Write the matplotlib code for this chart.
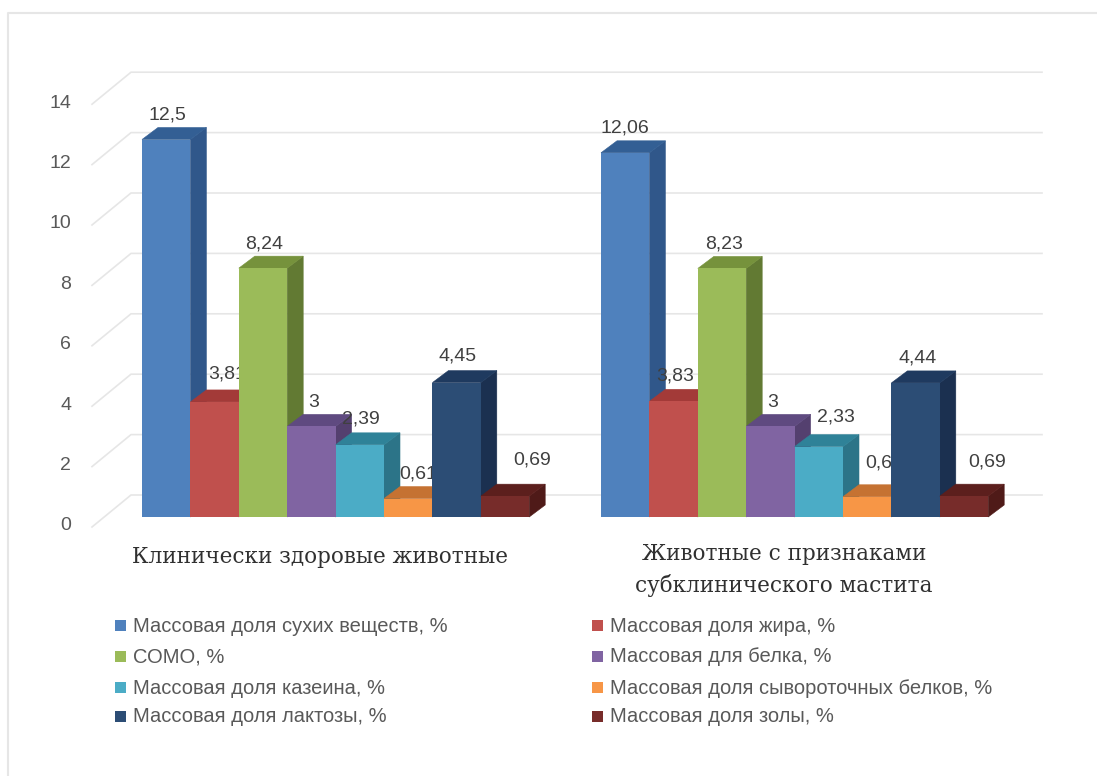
import matplotlib
matplotlib.use('Agg')
from matplotlib import pyplot as plt
from matplotlib.lines import Line2D
from matplotlib.patches import Rectangle

plt.rcParams['font.family'] = ['Liberation Sans', 'DejaVu Sans']

series_names = [
    'Массовая доля сухих веществ, %',
    'Массовая доля жира, %',
    'СОМО, %',
    'Массовая для белка, %',
    'Массовая доля казеина, %',
    'Массовая доля сывороточных белков, %',
    'Массовая доля лактозы, %',
    'Массовая доля золы, %',
]
healthy = [12.5, 3.81, 8.24, 3, 2.39, 0.61, 4.45, 0.69]
mastitis = [12.06, 3.83, 8.23, 3, 2.33, 0.67, 4.44, 0.69]
y_ticks = [0, 2, 4, 6, 8, 10, 12, 14]

front_colors = ['#4f81bd', '#c0504d', '#9bbb59', '#8064a2', '#4bacc6', '#f79646', '#2c4d75', '#772c2a']
top_colors = ['#335f94', '#a33a38', '#76923c', '#5f4a80', '#2f8298', '#c57232', '#1f3a5f', '#5c1f1d']
side_colors = ['#30578a', '#8f3230', '#627a33', '#54406f', '#2c7488', '#b0652a', '#1b3050', '#4f1a18']

# label nudges in pixels, the dense bars push some labels sideways
healthy_dx = [1, 13, 1, 2, 1, 10, 1, 27]
healthy_dy = [25, 28, 24, 24, 26, 25, 27, 36]
mastitis_dx = [0, 2, 2, 2, 17, 17, 2, 23]
mastitis_dy = [25, 25, 24, 24, 30, 34, 25, 34]

W, H = 1097, 776
BAR_PX = 48.4
UNIT_PX = 30.2
X0_PX = 142
Y0_PX = 517
DEPTH_X = 16 / BAR_PX
DEPTH_Y = 12 / UNIT_PX
WALL_X = 39 / BAR_PX
WALL_Y = 32 / UNIT_PX
FLOOR_OFFSET = 10 / UNIT_PX
GROUP_STEP = 459 / BAR_PX
TEXT_COLOR = '#595959'

fig = plt.figure(figsize=(W / 100, H / 100), dpi=100)
ax = fig.add_axes([0, 0, 1, 1])
ax.set_xlim(-X0_PX / BAR_PX, (W - X0_PX) / BAR_PX)
ax.set_ylim((Y0_PX - H) / UNIT_PX, Y0_PX / UNIT_PX)
ax.axis('off')


def px_x(x):
    return (x - X0_PX) / BAR_PX


def px_y(y):
    return (Y0_PX - y) / UNIT_PX


# page border, only the top and left edges are visible
fig.add_artist(Line2D([8 / W, 8 / W, 1], [0, 1 - 13 / H, 1 - 13 / H], color='#e6e6e6', linewidth=1.5))

# back wall grid with the slanted side wall lines
grid_left = px_x(131)
grid_right = px_x(1042)
side_left = grid_left - WALL_X
for v in y_ticks:
    back_y = v - FLOOR_OFFSET + WALL_Y
    ax.plot([side_left, grid_left, grid_right], [v - FLOOR_OFFSET, back_y, back_y],
            color='#e6e6e6', linewidth=1.2, zorder=1)
    ax.text(side_left - 21 / BAR_PX, v - FLOOR_OFFSET + 1 / UNIT_PX, str(v), ha='right', va='center',
            fontsize=14, color=TEXT_COLOR)


def draw_group(start, values, label_dx, label_dy):
    for i, v in enumerate(values):
        left = start + i
        right = left + 1
        z = 3 + i
        ax.fill([right, right + DEPTH_X, right + DEPTH_X, right],
                [0, DEPTH_Y, v + DEPTH_Y, v], color=side_colors[i], linewidth=0.4, zorder=z)
        ax.fill([left, left + DEPTH_X, right + DEPTH_X, right],
                [v, v + DEPTH_Y, v + DEPTH_Y, v], color=top_colors[i], linewidth=0.4, zorder=z)
        ax.bar(left, v, width=1, align='edge', color=front_colors[i], linewidth=0, zorder=z)
        ax.text(left + 0.5 + label_dx[i] / BAR_PX, v + label_dy[i] / UNIT_PX, str(v).replace('.', ','),
                ha='center', va='center', fontsize=14, color='#404040', zorder=z)


draw_group(0, healthy, healthy_dx, healthy_dy)
draw_group(GROUP_STEP, mastitis, mastitis_dx, mastitis_dy)

ax.text(px_x(320), px_y(557), 'Клинически здоровые животные',
        family='DejaVu Serif', fontsize=15.5, color='#303030', ha='center', va='center')
ax.text(px_x(784), px_y(570), 'Животные с признаками\nсубклинического мастита',
        family='DejaVu Serif', fontsize=15.5, color='#303030', ha='center', va='center', linespacing=1.45)

# legend laid out by hand so both columns keep the same row baselines
legend_rows = [626, 657, 688, 717]
legend_cols = [115, 592]
for i, name in enumerate(series_names):
    col_x = legend_cols[i % 2]
    row_y = legend_rows[i // 2]
    ax.add_patch(Rectangle((px_x(col_x), px_y(row_y + 5)), 11 / BAR_PX, 11 / UNIT_PX,
                           color=front_colors[i], linewidth=0))
    ax.text(px_x(col_x + 18), px_y(row_y), name, ha='left', va='center', fontsize=14.5, color=TEXT_COLOR)

fig.savefig('out.png', dpi=100)
